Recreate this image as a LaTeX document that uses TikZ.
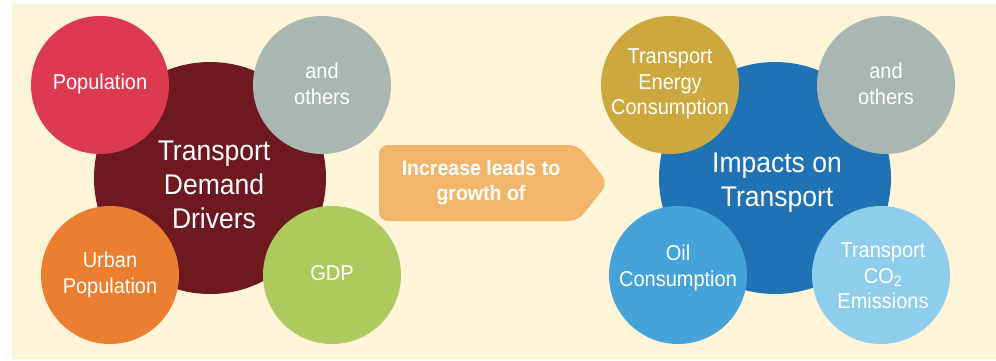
\documentclass[tikz,border=0pt]{standalone}
\usepackage{fontspec}
\setmainfont{Liberation Sans}[FakeStretch=0.93]
\definecolor{bgc}{HTML}{FEF5D8}
\definecolor{popred}{HTML}{DC3A50}
\definecolor{greyc}{HTML}{A9B6B2}
\definecolor{darkred}{HTML}{6E1820}
\definecolor{orangec}{HTML}{EC7E30}
\definecolor{greenc}{HTML}{AECA5F}
\definecolor{arrowc}{HTML}{F2B66B}
\definecolor{goldc}{HTML}{CDA83E}
\definecolor{bluec}{HTML}{1F73B4}
\definecolor{oilc}{HTML}{45A3DA}
\definecolor{lightb}{HTML}{8ECDEC}
\begin{document}
\begin{tikzpicture}[x=1pt,y=-1pt,
  bigc/.style={circle,draw=none,minimum size=232pt,inner sep=0pt},
  smallc/.style={circle,draw=none,minimum size=138pt,inner sep=0pt},
  lbl/.style={text=white,align=center,font=\fontsize{21.5}{25.5}\selectfont},
  biglbl/.style={text=white,align=center,font=\fontsize{28.5}{34}\selectfont},
  arrlbl/.style={text=white,align=center,font=\bfseries\fontsize{21}{25}\selectfont}]
\useasboundingbox (0,0) rectangle (996,360);
\fill[white] (0,0) rectangle (996,360);
\fill[bgc] (12,4) rectangle (996,359);
% left cluster
\node[bigc,fill=darkred] (drv) at (210,178) {};
\node[smallc,fill=popred] (pop) at (100,85) {};
\node[smallc,fill=greyc] (oth1) at (322,85) {};
\node[smallc,fill=orangec] (urb) at (110,275) {};
\node[smallc,fill=greenc] (gdp) at (332,275) {};
\node[biglbl] (drvt) at (214,185) {Transport\\Demand\\Drivers};
\node[lbl] (popt) at (100,84) {Population};
\node[lbl] (oth1t) at (322,84) {and\\others};
\node[lbl] (urbt) at (110,275) {Urban\\Population};
\node[lbl] (gdpt) at (332,273) {GDP};
% arrow
\fill[arrowc,rounded corners=9pt] (379,145) -- (578,145) -- (608,183) -- (578,221) -- (379,221) -- cycle;
\node[arrlbl] (arr) at (481,183) {Increase leads to\\growth of};
% right cluster
\node[bigc,fill=bluec] (imp) at (775,178) {};
\node[smallc,fill=goldc] (tec) at (670,85) {};
\node[smallc,fill=greyc] (oth2) at (886,85) {};
\node[smallc,fill=oilc] (oil) at (678,275) {};
\node[smallc,fill=lightb] (co2) at (881,275) {};
\node[biglbl] (impt) at (777,183) {Impacts on\\Transport};
\node[lbl] (tect) at (670,84) {Transport\\Energy\\Consumption};
\node[lbl] (oth2t) at (886,84) {and\\others};
\node[lbl] (oilt) at (678,268) {Oil\\Consumption};
\node[lbl] (co2t) at (883,276) {Transport\\CO\textsubscript{2}\\Emissions};
\end{tikzpicture}
\end{document}
